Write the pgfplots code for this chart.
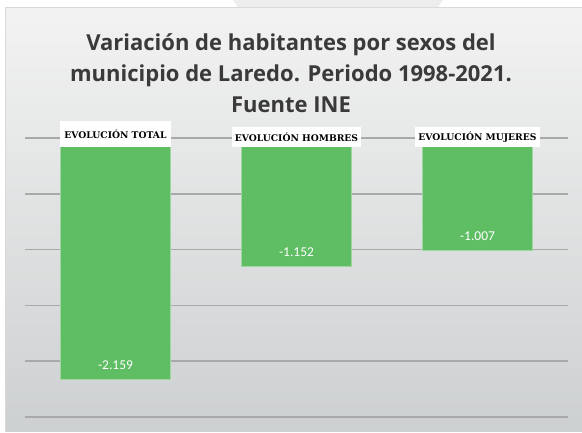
\documentclass[border=0pt]{standalone}
\usepackage{pgfplots}
\pgfplotsset{compat=1.18}
\usepackage{fontspec}
\setmainfont{Carlito}
\newfontfamily\titlefont{Open Sans}
\newfontfamily\labelfont{DejaVu Serif}
\definecolor{barg}{RGB}{95,190,100}
\definecolor{barb}{RGB}{160,214,160}
\definecolor{titc}{RGB}{58,58,58}
\definecolor{gridc}{RGB}{168,170,170}
\definecolor{bgtop}{RGB}{243,243,243}
\definecolor{bgbot}{RGB}{205,208,209}
\begin{document}
\begin{tikzpicture}
\shade[top color=bgtop, bottom color=bgbot] (0pt,0pt) rectangle (582pt,432pt);
\fill[white] (0pt,425pt) rectangle (582pt,432pt);
\fill[white] (0pt,0pt) rectangle (5pt,432pt);
\fill[black!7] (233pt,432pt) -- (443pt,432pt) -- (438pt,425pt) -- (238pt,425pt) -- cycle;
\draw[black!15, line width=0.8pt] (5.4pt,0pt) -- (5.4pt,425pt) -- (581.6pt,425pt);
\node[font=\titlefont\bfseries\fontsize{22}{31}\selectfont, text=titc, align=center] at (291pt,359pt)
  {Variación de habitantes por sexos del\\municipio de Laredo. Periodo 1998-2021.\\Fuente INE};
\begin{axis}[
  at={(25pt,15pt)}, anchor=south west,
  scale only axis, width=543pt, height=279pt,
  ybar, bar width=110pt,
  xmin=-0.5, xmax=2.5, ymin=-2500, ymax=0,
  axis line style={draw=none},
  xtick=\empty,
  ytick={-2500,-2000,-1500,-1000,-500,0},
  yticklabels={},
  major tick length=0pt,
  ymajorgrids,
  grid style={gridc, line width=1.5pt},
  clip=false,
  nodes near coords={\pgfmathprintnumber{\pgfplotspointmeta}},
  /pgf/number format/.cd, 1000 sep={.}, assume math mode=true,
  /pgfplots/.cd,
  every node near coord/.append style={text=white, font=\fontsize{13.5}{14}\selectfont, anchor=center, yshift=14pt},
]
\addplot[fill=barg, draw=barb, line width=0.8pt] coordinates {(0,-2159) (1,-1152) (2,-1007)};
\node[fill=white, font=\labelfont\bfseries\fontsize{9.2}{10}\selectfont, anchor=south, minimum height=26pt, inner xsep=4pt, inner ysep=0pt] at (axis cs:0,-81) {EVOLUCIÓN TOTAL};
\node[fill=white, font=\labelfont\bfseries\fontsize{9.2}{10}\selectfont, anchor=south, minimum height=20pt, inner xsep=3pt, inner ysep=0pt] at (axis cs:1,-81) {EVOLUCIÓN HOMBRES};
\node[fill=white, font=\labelfont\bfseries\fontsize{9.2}{10}\selectfont, anchor=south, minimum height=20pt, inner xsep=3pt, inner ysep=0pt] at (axis cs:2,-81) {EVOLUCIÓN MUJERES};
\end{axis}
\end{tikzpicture}
\end{document}
